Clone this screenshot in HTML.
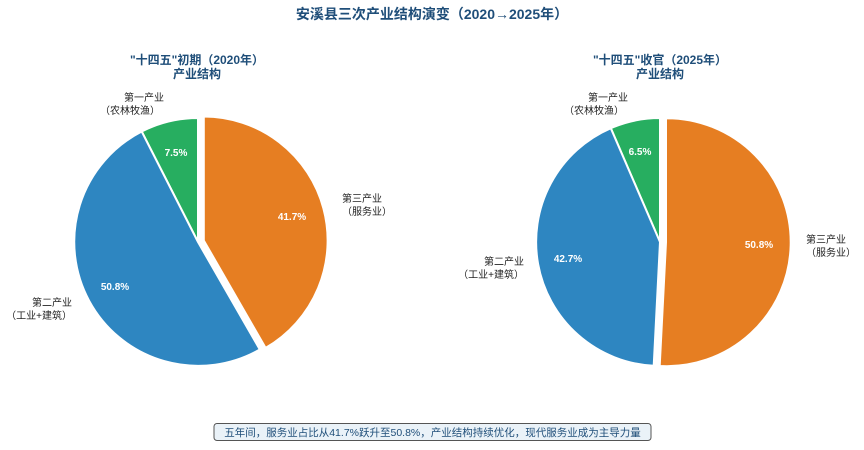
<!DOCTYPE html>
<html><head><meta charset="utf-8"><style>
body{margin:0;background:#fff;}
svg text{font-family:"Liberation Sans","Noto Sans CJK SC",sans-serif;}
</style></head><body>
<svg width="864" height="445" viewBox="0 0 864 445" xmlns="http://www.w3.org/2000/svg">
<text x="432" y="19" text-anchor="middle" font-size="14" font-weight="bold" fill="#1f4e79">安溪县三次产业结构演变（2020→2025年）</text>
<text x="197" y="64" text-anchor="middle" font-size="12" font-weight="bold" fill="#1f4e79">"十四五"初期（2020年）</text>
<text x="197" y="78" text-anchor="middle" font-size="12" font-weight="bold" fill="#1f4e79">产业结构</text>
<text x="660" y="64" text-anchor="middle" font-size="12" font-weight="bold" fill="#1f4e79">"十四五"收官（2025年）</text>
<text x="660" y="78" text-anchor="middle" font-size="12" font-weight="bold" fill="#1f4e79">产业结构</text>
<g stroke="#fff" stroke-width="2" stroke-linejoin="round">
<path d="M198,242 L198,118 A124,124 0 0 0 141.7,131.5 Z" fill="#27AE60"/>
<path d="M198,242 L141.7,131.5 A124,124 0 1 0 259.8,349.5 Z" fill="#2E86C1"/>
<path d="M203.8,240.5 L265.6,347.9 A124,124 0 0 0 203.8,116.5 Z" fill="#E67E22"/>
<path d="M660,242 L660,118 A124,124 0 0 0 610.8,128.2 Z" fill="#27AE60"/>
<path d="M660,242 L610.8,128.2 A124,124 0 0 0 653.7,365.8 Z" fill="#2E86C1"/>
<path d="M666,242.2 L659.7,366 A124,124 0 1 0 666,118.2 Z" fill="#E67E22"/>
</g>
<g font-size="10" font-weight="bold" fill="#fff" text-anchor="middle">
<text x="176" y="156">7.5%</text>
<text x="115" y="290">50.8%</text>
<text x="292" y="220">41.7%</text>
<text x="640" y="155">6.5%</text>
<text x="568" y="262">42.7%</text>
<text x="759" y="248">50.8%</text>
</g>
<g font-size="10" fill="#222">
<text x="164" y="101" text-anchor="end">第一产业</text>
<text x="160" y="114" text-anchor="end">（农林牧渔）</text>
<text x="72" y="306" text-anchor="end">第二产业</text>
<text x="72" y="319" text-anchor="end">（工业+建筑）</text>
<text x="342" y="202">第三产业</text>
<text x="342" y="215">（服务业）</text>
<text x="628" y="101" text-anchor="end">第一产业</text>
<text x="624" y="114" text-anchor="end">（农林牧渔）</text>
<text x="524" y="265" text-anchor="end">第二产业</text>
<text x="524" y="278" text-anchor="end">（工业+建筑）</text>
<text x="806" y="243">第三产业</text>
<text x="806" y="256">（服务业）</text>
</g>
<rect x="214" y="423.5" width="437" height="17" rx="3" fill="#eaf2f8" stroke="#555" stroke-width="1"/>
<text x="432.5" y="436" text-anchor="middle" font-size="10.5" fill="#1f4e79">五年间，服务业占比从41.7%跃升至50.8%，产业结构持续优化，现代服务业成为主导力量</text>
</svg>
</body></html>
